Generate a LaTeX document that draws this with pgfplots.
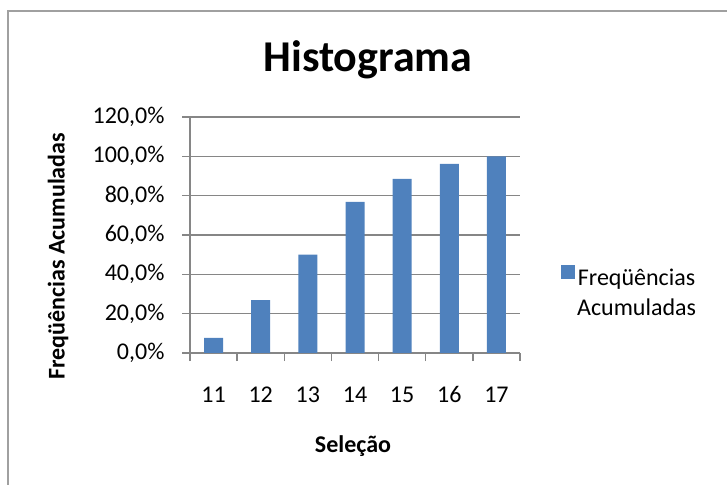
\documentclass[border=0pt]{standalone}
\usepackage{fontspec}
\setmainfont{Carlito}
\usepackage{pgfplots}
\pgfplotsset{compat=1.18}
\definecolor{barblue}{HTML}{4F81BD}
\definecolor{gridgray}{HTML}{868686}
\definecolor{framegray}{HTML}{A0A0A0}
\begin{document}
\begin{tikzpicture}[x=1pt,y=1pt]
\useasboundingbox (0,0) rectangle (727,484);
\draw[framegray, line width=2pt] (8,-5) -- (8,473) -- (740,473);
\begin{axis}[
  at={(190pt,131pt)}, anchor=south west,
  scale only axis, width=330pt, height=236pt,
  xmin=10.5, xmax=17.5, ymin=0, ymax=120,
  axis x line*=bottom, axis y line*=left,
  axis line style={gridgray, line width=1.3pt, -},
  xtick={11,...,17},
  xticklabels={11,12,13,14,15,16,17},
  major x tick style={draw=none},
  minor xtick={10.5,11.5,...,17.5},
  minor x tick style={gridgray, line width=1.3pt},
  minor tick length=8pt,
  xticklabel style={font=\fontsize{24}{28}\selectfont, anchor=base, yshift=-41pt},
  ytick={0,20,...,120},
  yticklabels={{0,0\%},{20,0\%},{40,0\%},{60,0\%},{80,0\%},{100,0\%},{120,0\%}},
  yticklabel style={font=\fontsize{24}{28}\selectfont, xshift=-14pt},
  major y tick style={gridgray, line width=1.3pt},
  major tick length=8pt,
  tick align=outside,
  ymajorgrids, grid style={gridgray, line width=1.3pt},
  title={Histograma},
  title style={font=\bfseries\fontsize{44}{50}\selectfont, at={(axis description cs:0.539,1.168)}, anchor=base},
  xlabel={Seleção},
  xlabel style={font=\bfseries\fontsize{24}{28}\selectfont, at={(axis description cs:0.494,-0.394)}, anchor=center},
  ylabel={Freqüências Acumuladas},
  ylabel style={font=\bfseries\fontsize{24}{28}\selectfont, at={(axis description cs:-0.4,0.41)}, anchor=center},
  legend style={at={(axis description cs:1.115,0.258)}, anchor=west, draw=none, fill=none,
    font=\fontsize{24}{30}\selectfont, nodes={align=center}},
  ybar, bar width=19pt,
]
\addplot[fill=barblue, draw=none,
  legend image code/.code={\fill[barblue] (0pt,14pt) rectangle (14pt,28pt);}] coordinates {
  (11,7.7) (12,26.9) (13,50.0) (14,76.9) (15,88.5) (16,96.2) (17,100.0)};
\addlegendentry{Freqüências\\Acumuladas}
\end{axis}
\end{tikzpicture}
\end{document}
